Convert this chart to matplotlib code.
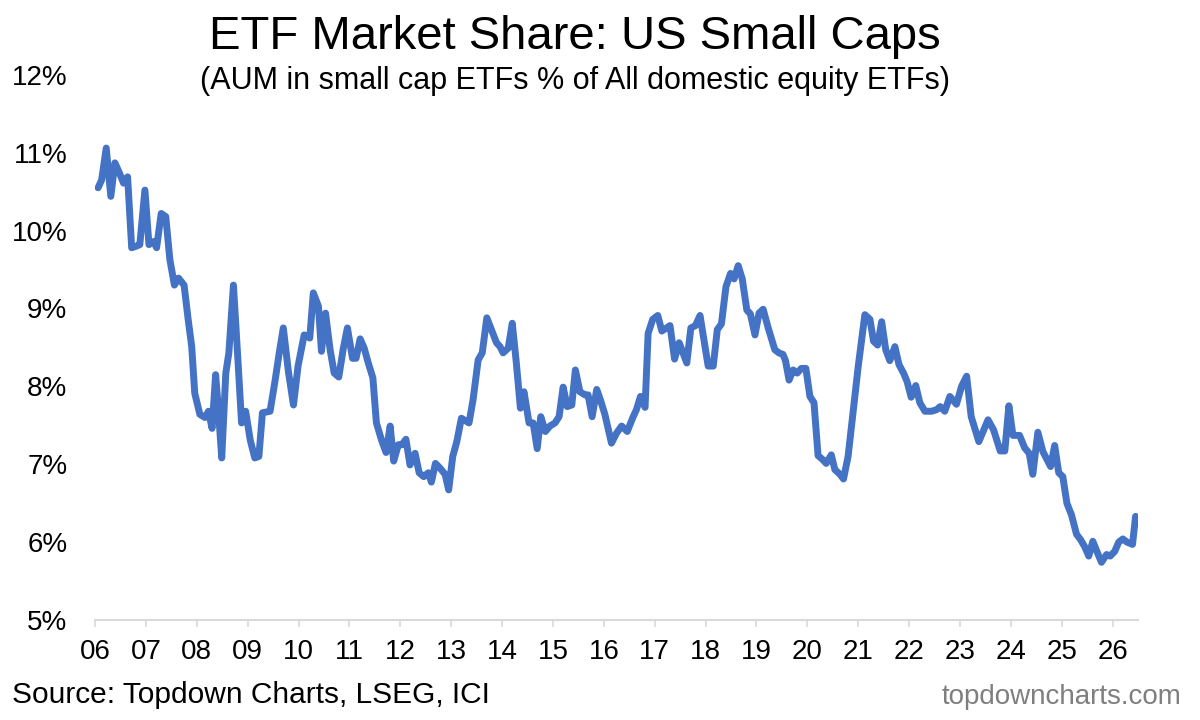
import matplotlib
matplotlib.use("Agg")
import matplotlib.pyplot as plt
import numpy as np

# data: decimal year, small cap ETF share of domestic equity ETF AUM (%)
years = [
    2006.06, 2006.13, 2006.22, 2006.31, 2006.39, 2006.48, 2006.56, 2006.64, 2006.72, 2006.81,
    2006.88, 2006.98, 2007.06, 2007.15, 2007.21, 2007.30, 2007.39, 2007.47, 2007.56, 2007.64,
    2007.75, 2007.83, 2007.90, 2007.96, 2008.06, 2008.16, 2008.23, 2008.30, 2008.37, 2008.42,
    2008.49, 2008.57, 2008.63, 2008.72, 2008.80, 2008.88, 2008.96, 2009.05, 2009.14, 2009.22,
    2009.29, 2009.44, 2009.54, 2009.62, 2009.70, 2009.80, 2009.90, 2009.99, 2010.11, 2010.22,
    2010.29, 2010.39, 2010.45, 2010.53, 2010.62, 2010.70, 2010.79, 2010.88, 2010.96, 2011.06,
    2011.13, 2011.21, 2011.29, 2011.37, 2011.46, 2011.53, 2011.63, 2011.72, 2011.80, 2011.87,
    2011.96, 2012.03, 2012.11, 2012.19, 2012.29, 2012.37, 2012.46, 2012.55, 2012.61, 2012.69,
    2012.78, 2012.88, 2012.95, 2013.03, 2013.11, 2013.20, 2013.35, 2013.43, 2013.53, 2013.61,
    2013.70, 2013.79, 2013.89, 2013.96, 2014.02, 2014.12, 2014.20, 2014.28, 2014.36, 2014.43,
    2014.53, 2014.61, 2014.69, 2014.76, 2014.85, 2014.94, 2015.04, 2015.12, 2015.20, 2015.28,
    2015.37, 2015.44, 2015.53, 2015.63, 2015.69, 2015.77, 2015.86, 2015.93, 2016.02, 2016.15,
    2016.25, 2016.35, 2016.46, 2016.57, 2016.64, 2016.72, 2016.81, 2016.87, 2016.96, 2017.06,
    2017.14, 2017.30, 2017.39, 2017.48, 2017.63, 2017.71, 2017.80, 2017.89, 2018.05, 2018.15,
    2018.23, 2018.31, 2018.40, 2018.49, 2018.56, 2018.64, 2018.72, 2018.81, 2018.88, 2018.97,
    2019.05, 2019.13, 2019.23, 2019.36, 2019.44, 2019.52, 2019.57, 2019.64, 2019.72, 2019.80,
    2019.88, 2019.97, 2020.05, 2020.13, 2020.21, 2020.30, 2020.37, 2020.47, 2020.54, 2020.64,
    2020.71, 2020.80, 2020.90, 2021.00, 2021.13, 2021.23, 2021.30, 2021.38, 2021.46, 2021.54,
    2021.62, 2021.72, 2021.80, 2021.89, 2021.96, 2022.04, 2022.13, 2022.21, 2022.31, 2022.44,
    2022.54, 2022.61, 2022.70, 2022.80, 2022.93, 2023.03, 2023.13, 2023.22, 2023.37, 2023.55,
    2023.66, 2023.79, 2023.88, 2023.96, 2024.04, 2024.17, 2024.27, 2024.36, 2024.43, 2024.53,
    2024.63, 2024.78, 2024.86, 2024.94, 2025.02, 2025.10, 2025.19, 2025.29, 2025.37, 2025.45,
    2025.53, 2025.61, 2025.69, 2025.78, 2025.88, 2025.95, 2026.04, 2026.12, 2026.20, 2026.28,
    2026.39, 2026.45,
]
share = [
    10.55, 10.65, 11.06, 10.44, 10.87, 10.74, 10.61, 10.69, 9.78, 9.80,
    9.82, 10.52, 9.82, 9.86, 9.78, 10.22, 10.18, 9.63, 9.30, 9.39,
    9.30, 8.86, 8.51, 7.91, 7.64, 7.60, 7.68, 7.46, 8.15, 7.74,
    7.08, 8.17, 8.43, 9.30, 8.43, 7.53, 7.68, 7.31, 7.08, 7.10,
    7.66, 7.68, 8.08, 8.43, 8.75, 8.19, 7.76, 8.26, 8.66, 8.62,
    9.20, 9.03, 8.45, 8.94, 8.47, 8.17, 8.12, 8.49, 8.75, 8.36,
    8.36, 8.61, 8.49, 8.30, 8.11, 7.53, 7.31, 7.15, 7.49, 7.04,
    7.25, 7.25, 7.32, 6.99, 7.14, 6.89, 6.84, 6.89, 6.77, 7.01,
    6.95, 6.87, 6.67, 7.10, 7.29, 7.59, 7.53, 7.83, 8.34, 8.43,
    8.88, 8.73, 8.56, 8.51, 8.43, 8.49, 8.81, 8.30, 7.72, 7.93,
    7.53, 7.53, 7.20, 7.61, 7.42, 7.49, 7.53, 7.61, 7.99, 7.74,
    7.76, 8.21, 7.93, 7.89, 7.89, 7.61, 7.96, 7.83, 7.64, 7.27,
    7.40, 7.49, 7.42, 7.60, 7.70, 7.87, 7.73, 8.68, 8.86, 8.91,
    8.71, 8.78, 8.35, 8.56, 8.30, 8.75, 8.78, 8.91, 8.26, 8.26,
    8.73, 8.80, 9.28, 9.45, 9.38, 9.55, 9.38, 8.98, 8.93, 8.66,
    8.94, 8.99, 8.75, 8.47, 8.43, 8.41, 8.33, 8.08, 8.21, 8.17,
    8.23, 8.23, 7.87, 7.79, 7.11, 7.06, 7.01, 7.12, 6.93, 6.87,
    6.81, 7.10, 7.68, 8.26, 8.92, 8.86, 8.58, 8.53, 8.83, 8.47,
    8.33, 8.51, 8.28, 8.17, 8.06, 7.86, 8.01, 7.79, 7.68, 7.68,
    7.70, 7.74, 7.68, 7.87, 7.77, 8.00, 8.13, 7.61, 7.29, 7.57,
    7.44, 7.17, 7.17, 7.75, 7.37, 7.37, 7.21, 7.14, 6.87, 7.41,
    7.16, 6.97, 7.24, 6.89, 6.84, 6.50, 6.35, 6.10, 6.03, 5.94,
    5.82, 6.01, 5.88, 5.74, 5.84, 5.82, 5.88, 6.00, 6.04, 6.00,
    5.97, 6.33,
]

year_ticks = list(range(2006, 2027))
year_labels = ["%02d" % (y % 100) for y in year_ticks]
pct_ticks = [5, 6, 7, 8, 9, 10, 11, 12]

plt.rcParams['font.family'] = ['Liberation Sans', 'DejaVu Sans']

fig = plt.figure(figsize=(12, 7.2), dpi=100, facecolor='white')
ax = fig.add_axes([0.0792, 0.139, 0.8688, 0.757])

ax.plot(years, share, color='#4472C4', linewidth=5, solid_joinstyle='round',
        solid_capstyle='round')

ax.set_xlim(2006.0, 2026.49)
ax.set_ylim(5, 12)

ax.set_xticks(year_ticks)
ax.set_xticklabels(year_labels)
ax.set_yticks(pct_ticks)
ax.set_yticklabels([str(p) + '%' for p in pct_ticks])

for s in ['top', 'right', 'left']:
    ax.spines[s].set_visible(False)
ax.spines['bottom'].set_color('#d9d9d9')
ax.spines['bottom'].set_linewidth(1.5)

ax.tick_params(axis='x', direction='out', length=5, width=1.2, color='#d9d9d9',
               labelsize=20, pad=9, labelcolor='black')
ax.tick_params(axis='y', length=0, labelsize=20, pad=20, labelcolor='black')
for lbl in ax.get_yticklabels():
    lbl.set_horizontalalignment('right')

fig.text(0.479, 0.949, 'ETF Market Share: US Small Caps', ha='center', va='center',
         fontsize=34, color='black')
fig.text(0.479, 0.888, '(AUM in small cap ETFs % of All domestic equity ETFs)',
         ha='center', va='center', fontsize=22, color='black')
fig.text(0.01, 0.035, 'Source: Topdown Charts, LSEG, ICI', ha='left', va='center',
         fontsize=21.5, color='black')
fig.text(0.985, 0.032, 'topdowncharts.com', ha='right', va='center',
         fontsize=20, color='#7f7f7f')

fig.savefig('out.png', dpi=100, facecolor='white')
